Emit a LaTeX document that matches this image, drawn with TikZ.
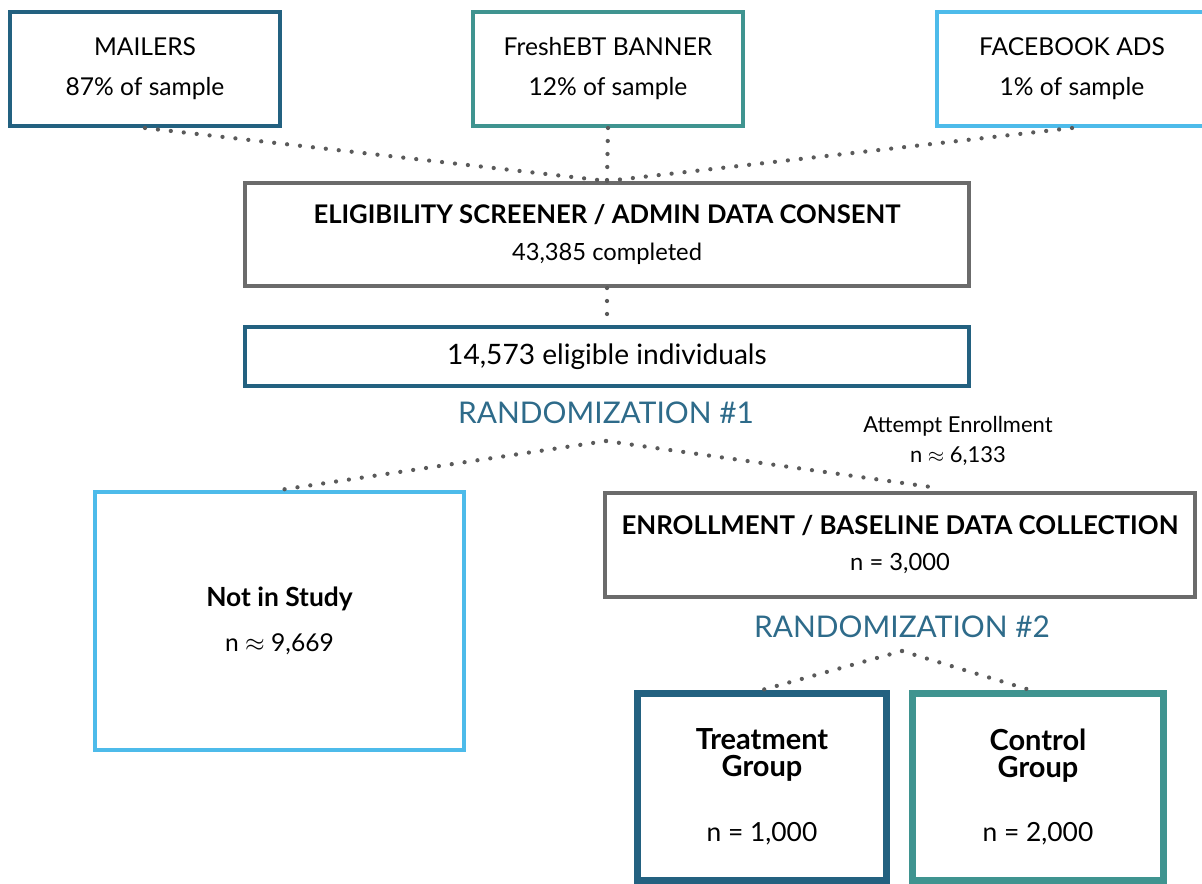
\documentclass[tikz,border=0pt]{standalone}
\usepackage{fontspec}
\setmainfont{Lato}
\usetikzlibrary{arrows}

\definecolor{navy}{HTML}{236180}
\definecolor{teal}{HTML}{3F9490}
\definecolor{sky}{HTML}{4DBBEA}
\definecolor{slate}{HTML}{6B6B6B}
\definecolor{dotgray}{HTML}{5A5A5A}
\definecolor{randblue}{HTML}{2E6B8A}

\newcommand{\headtext}[2]{{\fontsize{#1}{#1}\selectfont\bfseries #2}}

\begin{document}
\begin{tikzpicture}[
    box/.style={draw,rectangle,line width=0.08cm,fill=white,text=black,align=center,inner sep=0pt},
    srcbox/.style={box,minimum width=5.4cm,minimum height=2.28cm,font=\fontsize{14}{22.7}\selectfont},
    groupbox/.style={box,line width=0.14cm,minimum height=3.74cm,font=\fontsize{15}{15.4}\selectfont},
    randlabel/.style={randblue,font=\fontsize{17}{20}\selectfont},
    dots/.style={dotgray,line width=0.085cm,line cap=round,dash pattern=on 0pt off 0.26cm}
  ]
  \useasboundingbox (0,0) rectangle (24.04,-17.68);

  % recruitment sources
  \node[srcbox,draw=navy] (mail) at (2.9,-1.38) {MAILERS\\87\% of sample};
  \node[srcbox,draw=teal] (fresh) at (12.16,-1.38) {FreshEBT BANNER\\12\% of sample};
  \node[srcbox,draw=sky] (fb) at (21.44,-1.38) {FACEBOOK ADS\\1\% of sample};

  \node[box,draw=slate,minimum width=14.48cm,minimum height=2.06cm,font=\fontsize{13.5}{21.6}\selectfont] (elig) at (12.14,-4.69) {\headtext{14.6}{ELIGIBILITY SCREENER / ADMIN DATA CONSENT}\\43,385 completed};
  \node[box,draw=navy,minimum width=14.48cm,minimum height=1.18cm,font=\fontsize{16}{19}\selectfont] (eligible) at (12.14,-7.13) {14,573 eligible individuals};

  \node[randlabel] (rand1) at (12.12,-8.26) {RANDOMIZATION \#1};
  \node[align=center,font=\fontsize{12.5}{17}\selectfont] (attempt) at (19.16,-8.82) {Attempt Enrollment\\n $\approx$ 6,133};
  \coordinate (r1) at (12.12,-8.82);
  \coordinate (att) at (18.76,-9.76);

  \node[box,draw=sky,minimum width=7.38cm,minimum height=5.16cm,font=\fontsize{14}{25.6}\selectfont] (notin) at (5.59,-12.42) {\headtext{15}{Not in Study}\\n $\approx$ 9,669};
  \node[box,draw=slate,minimum width=11.8cm,minimum height=2.08cm,font=\fontsize{13.5}{20.5}\selectfont] (enroll) at (18.0,-10.9) {\headtext{14.7}{ENROLLMENT / BASELINE DATA COLLECTION}\\n = 3,000};

  \node[randlabel] (rand2) at (18.04,-12.54) {RANDOMIZATION \#2};
  \coordinate (r2) at (18.04,-13.02);

  \node[groupbox,draw=navy,minimum width=4.98cm] (treat) at (15.24,-15.74) {\headtext{16.5}{Treatment}\\\headtext{16.5}{Group}\\[0.75cm]n = 1,000};
  \node[groupbox,draw=teal,minimum width=5.02cm] (ctrl) at (20.76,-15.74) {\headtext{16.5}{Control}\\\headtext{16.5}{Group}\\[0.75cm]n = 2,000};

  % dotted links
  \draw[dots] (mail.south) edge (elig.north);
  \draw[dots] (fresh.south) edge (elig.north);
  \draw[dots] (fb.south) edge (elig.north);
  \draw[dots] (elig.south) edge (eligible.north);
  \draw[dots] (r1) edge (notin.north);
  \draw[dots] (r1) edge (att);
  \draw[dots] (r2) edge (treat.north);
  \draw[dots] (r2) edge ([xshift=-0.16cm]ctrl.north);

\end{tikzpicture}
\end{document}
